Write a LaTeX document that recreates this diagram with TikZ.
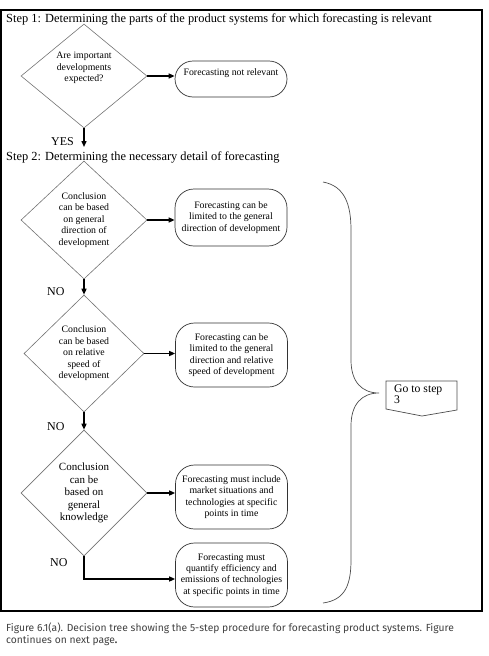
\documentclass[tikz,border=0pt]{standalone}
\usepackage{fontspec}
\setmainfont{Liberation Serif}
\newfontfamily\capfont{Fira Sans}
\usetikzlibrary{shapes.geometric,arrows.meta}
\begin{document}
\begin{tikzpicture}[x=1pt,y=-1pt,
  dia/.style={diamond, draw=black!55, line width=0.6pt, inner sep=0pt, aspect=1, align=center, font=\fontsize{9.8}{11.5}\selectfont},
  rbox/.style={draw=black!80, line width=0.7pt, rounded corners=19pt, minimum width=112pt, align=center, inner sep=0pt, font=\fontsize{9.8}{11.4}\selectfont},
  arr/.style={line width=1.4pt, -{Triangle[length=6pt,width=5pt]}},
  steptxt/.style={anchor=base west, inner sep=0pt, font=\fontsize{12.4}{14}\selectfont},
  lab/.style={anchor=base west, inner sep=0pt, font=\fontsize{12}{14}\selectfont},
  thinline/.style={draw=black!70, line width=0.7pt}
]
\useasboundingbox (0,0) rectangle (489,656);
\draw[line width=1.2pt] (1,10) rectangle (482,611);

\node[steptxt] (s1) at (6,22.5) {Step 1: Determining the parts of the product systems for which forecasting is relevant};
\node[dia, minimum width=126pt, minimum height=104pt] (d1) at (84,76) {Are important\\developments\\expected?\\[6pt]\mbox{}};
\node[rbox, minimum height=36pt, rounded corners=18pt] (b1) at (231,79) {Forecasting not relevant\\[2pt]\mbox{}};
\draw[arr] (d1.east) -- (d1.east -| b1.west);
\coordinate (y1) at (84,147);
\draw[arr] (d1.south) -- (y1);
\node[lab] (yes) at (51,145.5) {YES};
\node[steptxt] (s2) at (6,160) {Step 2: Determining the necessary detail of forecasting};

\node[dia, minimum width=126pt, minimum height=118pt] (d2) at (84,220) {Conclusion\\can be based\\on general\\direction of\\development};
\node[rbox, minimum height=57pt] (b2) at (231,217.5) {Forecasting can be\\limited to the general\\direction of development};
\draw[arr] (d2.east) -- (d2.east -| b2.west);

\node[lab] (no1) at (47,295) {NO};
\node[dia, minimum width=120pt, minimum height=117pt] (d3) at (84,353.5) {Conclusion\\can be based\\on relative\\speed of\\development};
\draw[arr] (d2.south) -- (d3.north);
\node[rbox, minimum height=64pt] (b3) at (231.5,355) {Forecasting can be\\limited to the general\\direction and relative\\speed of development};
\draw[arr] (d3.east) -- (d3.east -| b3.west);

\node[lab] (no2) at (47,430.5) {NO};
\node[dia, minimum width=126pt, minimum height=126pt, font=\fontsize{11}{12.5}\selectfont] (d4) at (84,493) {Conclusion\\can be\\based on\\general\\knowledge};
\draw[arr] (d3.south) -- (d4.north);
\node[rbox, minimum height=64pt] (b4) at (231.5,497) {Forecasting must include\\market situations and\\technologies at specific\\points in time};
\draw[arr] (d4.east) -- (d4.east -| b4.west);

\node[lab] (no3) at (50,566.7) {NO};
\node[rbox, minimum height=64pt] (b5) at (231.5,575) {Forecasting must\\quantify efficiency and\\emissions of technologies\\at specific points in time};
\coordinate (c5) at (84,579);
\draw[arr] (d4.south) -- (c5) -- (c5 -| b5.west);

% brace
\draw[thinline] (323,182) .. controls (345,186) and (351,205) .. (351,230) -- (351,360)
  .. controls (351,382) and (362,393) .. (379,393)
  .. controls (362,393) and (351,404) .. (351,426) -- (351,560)
  .. controls (351,585) and (345,600) .. (323,603);

% go to step 3
\draw[thinline] (386,381) -- (457,381) -- (457,410) -- (422,416) -- (386,409) -- cycle;
\node[anchor=west, inner sep=0pt, align=left, font=\fontsize{11.7}{11.5}\selectfont] (g3) at (394,394) {Go to step\\3};

\node[anchor=north west, inner sep=0pt, align=left, text=black!75, font=\capfont\fontsize{10.3}{12}\selectfont] (cap) at (6,623) {Figure 6.1(a). Decision tree showing the 5-step procedure for forecasting product systems. Figure\\continues on next page\textbf{.}};
\end{tikzpicture}
\end{document}
